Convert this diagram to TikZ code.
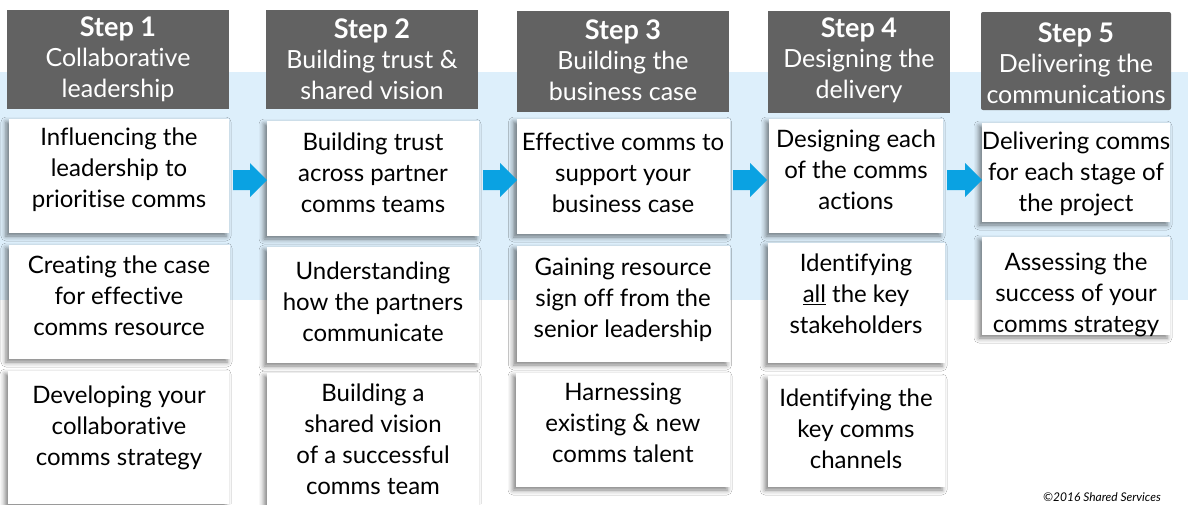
\documentclass[tikz,border=0pt]{standalone}
\usepackage{fontspec}
\setmainfont{Lato}[Ligatures=NoCommon]
\usetikzlibrary{shadows.blur}
\definecolor{band}{HTML}{DDEFFB}
\definecolor{hdr}{HTML}{626262}
\definecolor{arr}{HTML}{0AA2E2}
\begin{document}
\begin{tikzpicture}[x=1pt,y=-1pt,
  hdrbox/.style={fill=hdr,draw=none,inner sep=0pt},
  hdrtxt/.style={text=white,align=center,font=\fontsize{25}{30.5}\selectfont,inner sep=0pt},
  cbox/.style={fill=white,draw=none,inner sep=0pt,
    blur shadow={shadow xshift=-3pt,shadow yshift=-3pt,shadow blur radius=5pt,shadow opacity=50}},
  ctxt/.style={text=black,align=center,font=\fontsize{24}{31}\selectfont,inner sep=0pt},
  blockarrow/.style={fill=arr,draw=none}]
\newcommand{\stepword}[1]{{\fontsize{27}{30.5}\selectfont\bfseries #1}}
\useasboundingbox (0,0) rectangle (1188,504);
\fill[white] (0,0) rectangle (1188,504);
\fill[band] (0,72) rectangle (1188,300);

% headers
\node[hdrbox,minimum width=222pt,minimum height=99pt] (h1) at (118,59.5) {};
\node[hdrbox,minimum width=212pt,minimum height=99pt] (h2) at (372,59.5) {};
\node[hdrbox,minimum width=212pt,minimum height=101pt] (h3) at (623,61.5) {};
\node[hdrbox,minimum width=182pt,minimum height=102pt] (h4) at (859,62) {};
\node[hdrbox,minimum width=190pt,minimum height=98pt,rounded corners=2pt] (h5) at (1076,61) {};

\node[hdrtxt] (ht1) at (118,59) {\stepword{Step 1}\\Collaborative\\leadership};
\node[hdrtxt] (ht2) at (372,59) {\stepword{Step 2}\\Building trust \&\\shared vision};
\node[hdrtxt] (ht3) at (623,60) {\stepword{Step 3}\\Building the\\business case};
\node[hdrtxt] (ht4) at (859,60) {\stepword{Step 4}\\Designing the\\delivery};
\node[hdrtxt] (ht5) at (1076,63) {\stepword{Step 5}\\Delivering the\\communications};

% content boxes
\node[cbox,minimum width=220pt,minimum height=114pt] (b11) at (119,176) {};
\node[cbox,minimum width=221pt,minimum height=114pt] (b12) at (119.5,302) {};
\node[cbox,minimum width=221pt,minimum height=133pt] (b13) at (118.5,437.5) {};

\node[cbox,minimum width=212pt,minimum height=115pt] (b21) at (373,178.5) {};
\node[cbox,minimum width=212pt,minimum height=116pt] (b22) at (373,305) {};
\node[cbox,minimum width=212pt,minimum height=132pt] (b23) at (373,439) {};

\node[cbox,minimum width=213pt,minimum height=115pt] (b31) at (623,176.5) {};
\node[cbox,minimum width=213pt,minimum height=116pt] (b32) at (623,304) {};
\node[cbox,minimum width=214pt,minimum height=114pt] (b33) at (623,430) {};

\node[cbox,minimum width=174pt,minimum height=114pt] (b41) at (856,176) {};
\node[cbox,minimum width=177pt,minimum height=120pt] (b42) at (856.5,303) {};
\node[cbox,minimum width=177pt,minimum height=111pt] (b43) at (856.5,431.5) {};

\node[cbox,minimum width=188pt,minimum height=99pt] (b51) at (1076,172.5) {};
\node[cbox,minimum width=188pt,minimum height=98pt] (b52) at (1076,286) {};

% content texts
\node[ctxt] (t11) at (119,170) {Influencing the\\leadership to\\prioritise comms};
\node[ctxt] (t12) at (119,296) {Creating the case\\for effective\\comms resource};
\node[ctxt] (t13) at (119,428) {Developing your\\collaborative\\comms strategy};

\node[ctxt] (t21) at (373,173) {Building trust\\across partner\\comms teams};
\node[ctxt] (t22) at (373,302) {Understanding\\how the partners\\communicate};
\node[ctxt] (t23) at (373,439) {Building a\\shared vision\\of a successful\\comms team};

\node[ctxt] (t31) at (623,173) {Effective comms to\\support your\\business case};
\node[ctxt] (t32) at (623,300) {Gaining resource\\sign off from the\\senior leadership};
\node[ctxt] (t33) at (623,423) {Harnessing\\existing \& new\\comms talent};

\node[ctxt] (t41) at (856,170) {Designing each\\of the comms\\actions};
\node[ctxt] (t42) at (856,294) {Identifying\\\underline{all} the key\\stakeholders};
\node[ctxt] (t43) at (856,429) {Identifying the\\key comms\\channels};

\node[ctxt] (t51) at (1076,174) {Delivering comms\\for each stage of\\the project};
\node[ctxt] (t52) at (1076,295) {Assessing the\\success of  your\\comms strategy};

% arrows
\foreach \xa/\xb in {233/267,483/517,733/767,947/982}{
  \fill[blockarrow] (\xa,170) -- (\xb-17,170) -- (\xb-17,163) -- (\xb,180) -- (\xb-17,197) -- (\xb-17,190) -- (\xa,190) -- cycle;
}

\node[anchor=base west,inner sep=0pt,font=\itshape\fontsize{12}{14}\selectfont] (copy) at (1043,501) {©2016 Shared Services};
\end{tikzpicture}
\end{document}
